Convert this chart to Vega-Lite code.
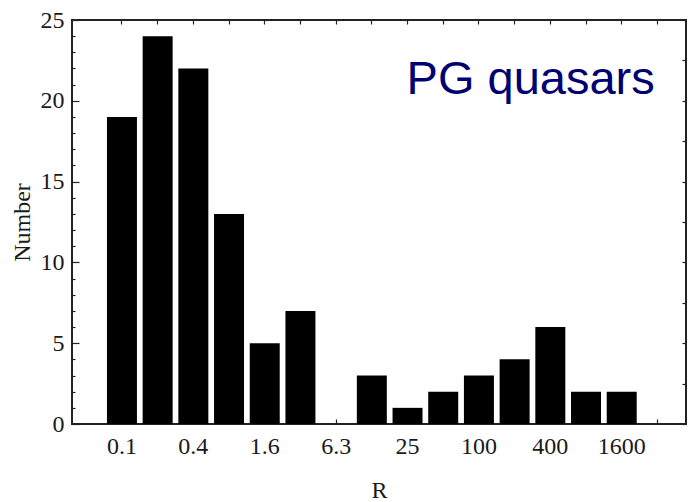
{
  "$schema": "https://vega.github.io/schema/vega-lite/v6.json",
  "width": 614,
  "height": 404,
  "autosize": "none",
  "padding": {"left": 72, "top": 20, "right": 2, "bottom": 78},
  "background": "white",
  "config": {
    "view": {"stroke": "#222222", "strokeWidth": 2},
    "axis": {
      "labelFont": "Liberation Serif",
      "titleFont": "Liberation Serif",
      "labelFontSize": 24,
      "titleFontSize": 24,
      "titleFontWeight": "normal",
      "labelColor": "#1a1a1a",
      "titleColor": "#1a1a1a",
      "domain": false,
      "grid": false,
      "tickColor": "#222222",
      "tickWidth": 1.2
    }
  },
  "data": {
    "values": [
      {"R": "0.1", "Number": 19},
      {"R": "0.2", "Number": 24},
      {"R": "0.4", "Number": 22},
      {"R": "0.8", "Number": 13},
      {"R": "1.6", "Number": 5},
      {"R": "3.2", "Number": 7},
      {"R": "6.3", "Number": 0},
      {"R": "12.5", "Number": 3},
      {"R": "25", "Number": 1},
      {"R": "50", "Number": 2},
      {"R": "100", "Number": 3},
      {"R": "200", "Number": 4},
      {"R": "400", "Number": 6},
      {"R": "800", "Number": 2},
      {"R": "1600", "Number": 2},
      {"R": "3200", "Number": 0}
    ]
  },
  "layer": [
    {
      "mark": {"type": "bar", "color": "black"},
      "encoding": {
        "x": {
          "field": "R",
          "type": "ordinal",
          "sort": null,
          "scale": {"paddingInner": 0.16, "paddingOuter": 0.68, "align": 0.72},
          "axis": {
            "orient": "bottom",
            "title": "R",
            "labelAngle": 0,
            "tickSize": 5,
            "offset": -5,
            "labelPadding": 10,
            "titlePadding": 20,
            "labelExpr": "indexof(['0.1','0.4','1.6','6.3','25','100','400','1600'], datum.label) >= 0 ? datum.label : ''"
          }
        },
        "y": {
          "field": "Number",
          "type": "quantitative",
          "scale": {"domain": [0, 25], "nice": false},
          "axis": {
            "orient": "left",
            "title": "Number",
            "values": [0, 5, 10, 15, 20, 25],
            "tickSize": 7,
            "offset": -7,
            "labelPadding": 8,
            "titlePadding": 6
          }
        }
      }
    },
    {
      "mark": {"type": "bar", "opacity": 0},
      "encoding": {
        "x": {
          "field": "R",
          "type": "ordinal",
          "sort": null,
          "axis": {"orient": "top", "title": null, "labels": false, "tickSize": 4, "offset": -4}
        },
        "y": {
          "field": "Number",
          "type": "quantitative",
          "axis": {
            "orient": "left",
            "title": null,
            "labels": false,
            "values": [1,2,3,4,6,7,8,9,11,12,13,14,16,17,18,19,21,22,23,24],
            "tickSize": 3,
            "offset": -3
          }
        }
      }
    },
    {
      "mark": {"type": "bar", "opacity": 0},
      "encoding": {
        "x": {"field": "R", "type": "ordinal", "sort": null, "axis": null},
        "y": {
          "field": "Number",
          "type": "quantitative",
          "axis": {
            "orient": "right",
            "title": null,
            "labels": false,
            "values": [0, 2.5, 5, 7.5, 10, 12.5, 15, 17.5, 20, 22.5, 25],
            "tickSize": 4,
            "offset": -4
          }
        }
      }
    },
    {
      "data": {"values": [{"label": "PG quasars"}]},
      "mark": {
        "type": "text",
        "font": "Liberation Sans",
        "fontSize": 47,
        "color": "#000070",
        "align": "right",
        "baseline": "alphabetic",
        "dx": 33
      },
      "encoding": {
        "x": {"datum": "1600", "type": "ordinal", "axis": null},
        "y": {"datum": 20.4, "type": "quantitative", "axis": null},
        "text": {"field": "label"}
      }
    }
  ],
  "resolve": {"axis": {"x": "independent", "y": "independent"}}
}
